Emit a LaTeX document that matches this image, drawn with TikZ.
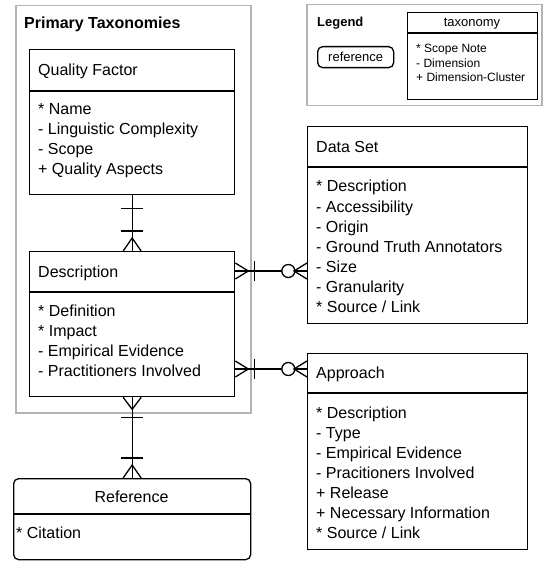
\documentclass[tikz,border=0pt]{standalone}
\usepackage{fontspec}
\setmainfont{Liberation Sans}
\usetikzlibrary{calc}
\definecolor{framegray}{HTML}{B3B3B3}
\begin{document}
\begin{tikzpicture}[x=1pt,y=-1pt,
  box/.style={draw=black, line width=1.3pt, inner sep=0pt, anchor=north west, fill=white},
  grayframe/.style={draw=framegray, line width=1.5pt, inner sep=0pt, anchor=north west},
  txt/.style={anchor=base west, inner sep=0pt, font=\fontsize{16}{20}\selectfont},
  ttl/.style={anchor=base, inner sep=0pt, font=\fontsize{16}{20}\selectfont},
  smalltxt/.style={anchor=base west, inner sep=0pt, font=\fontsize{12}{14}\selectfont},
  ln/.style={draw=black, line width=1.3pt},
  circ/.style={circle, draw=black, fill=white, line width=1.3pt, minimum size=13pt, inner sep=0pt}]
\useasboundingbox (0,0) rectangle (544,561);

% frames
\node[grayframe, minimum width=235pt, minimum height=407pt] (prim) at (15,5) {};
\node[anchor=base west, inner sep=0pt, font=\fontsize{16}{20}\selectfont\bfseries] (primt) at (24,29) {Primary Taxonomies};

\node[grayframe, minimum width=235pt, minimum height=101pt] (leg) at (306,4) {};
\node[anchor=base west, inner sep=0pt, font=\fontsize{13}{15}\selectfont\bfseries] (legt) at (317,27) {Legend};
\node[box, rounded corners=5pt, minimum width=76pt, minimum height=21pt, font=\fontsize{13}{15}\selectfont] (legref) at (317,46) {reference};
\node[box, minimum width=130pt, minimum height=87pt] (legtax) at (407,12) {};
\draw[ln] ([yshift=-21pt]legtax.north west) -- ([yshift=-21pt]legtax.north east);
\node[anchor=base, inner sep=0pt, font=\fontsize{13}{15}\selectfont] (legtaxt) at (472,27) {taxonomy};
\foreach \t [count=\i] in {* Scope Note,- Dimension,+ Dimension-Cluster}
  \node[smalltxt] (lg\i) at (416,38.5+14.5*\i) {\t};

% entities
\node[box, minimum width=205pt, minimum height=145pt] (qf) at (29,49) {};
\draw[ln] ([yshift=-42pt]qf.north west) -- ([yshift=-42pt]qf.north east);
\node[txt] (qft) at (38,76) {Quality Factor};
\foreach \t [count=\i] in {* Name,- Linguistic Complexity,- Scope,+ Quality Aspects}
  \node[txt] (qf\i) at (38,95+20*\i) {\t};

\node[box, minimum width=205pt, minimum height=145pt] (desc) at (29,251) {};
\draw[ln] ([yshift=-41pt]desc.north west) -- ([yshift=-41pt]desc.north east);
\node[txt] (desct) at (38,277) {Description};
\foreach \t [count=\i] in {* Definition,* Impact,- Empirical Evidence,- Practitioners Involved}
  \node[txt] (de\i) at (38,296+20*\i) {\t};

\node[box, rounded corners=5pt, minimum width=237pt, minimum height=81pt] (ref) at (13,478) {};
\draw[ln] ([yshift=-36pt]ref.north west) -- ([yshift=-36pt]ref.north east);
\node[ttl] (reft) at (131.5,502) {Reference};
\node[txt] (ref1) at (16,538) {* Citation};

\node[box, minimum width=220pt, minimum height=197pt] (ds) at (307,126) {};
\draw[ln] ([yshift=-41pt]ds.north west) -- ([yshift=-41pt]ds.north east);
\node[txt] (dst) at (316,153) {Data Set};
\foreach \t [count=\i] in {* Description,- Accessibility,- Origin,- Ground Truth Annotators,- Size,- Granularity,* Source / Link}
  \node[txt] (ds\i) at (316,172+20*\i) {\t};

\node[box, minimum width=220pt, minimum height=196pt] (ap) at (307,353) {};
\draw[ln] ([yshift=-40pt]ap.north west) -- ([yshift=-40pt]ap.north east);
\node[txt] (apt) at (316,378) {Approach};
\foreach \t [count=\i] in {* Description,- Type,- Empirical Evidence,- Pracitioners Involved,+ Release,+ Necessary Information,* Source / Link}
  \node[txt] (ap\i) at (316,398+20*\i) {\t};

% Quality Factor -- Description
\draw[ln] (qf.south) -- (desc.north);
\draw[ln] ($(qf.south)+(-11,13)$) -- ($(qf.south)+(11,13)$);
\draw[ln] ($(desc.north)+(-11,-20)$) -- ($(desc.north)+(11,-20)$);
\draw[ln] ($(desc.north)+(-9,0)$) -- ($(desc.north)+(0,-13)$) -- ($(desc.north)+(9,0)$);

% Description -- Reference
\draw[ln] (desc.south) -- (ref.north);
\draw[ln] ($(desc.south)+(-9,0)$) -- ($(desc.south)+(0,12)$) -- ($(desc.south)+(9,0)$);
\draw[ln] ($(desc.south)+(-11,20)$) -- ($(desc.south)+(11,20)$);
\draw[ln] ($(ref.north)+(-11,-20)$) -- ($(ref.north)+(11,-20)$);
\draw[ln] ($(ref.north)+(-9,0)$) -- ($(ref.north)+(0,-13)$) -- ($(ref.north)+(9,0)$);

% Description -- Data Set
\coordinate (dsE) at ([yshift=-20pt]desc.north east);
\coordinate (dsW) at (dsE -| ds.west);
\draw[ln] (dsE) -- (dsW);
\draw[ln] ($(dsE)+(0,-8)$) -- ($(dsE)+(13,0)$) -- ($(dsE)+(0,8)$);
\draw[ln] ($(dsE)+(19,-10)$) -- ($(dsE)+(19,10)$);
\node[circ] (o1) at ($(dsE)+(53,0)$) {};
\draw[ln] ($(dsW)+(0,-8)$) -- ($(dsW)+(-13,0)$) -- ($(dsW)+(0,8)$);

% Description -- Approach
\coordinate (apE) at ([yshift=-118pt]desc.north east);
\coordinate (apW) at (apE -| ap.west);
\draw[ln] (apE) -- (apW);
\draw[ln] ($(apE)+(0,-8)$) -- ($(apE)+(13,0)$) -- ($(apE)+(0,8)$);
\draw[ln] ($(apE)+(19,-10)$) -- ($(apE)+(19,10)$);
\node[circ] (o2) at ($(apE)+(53,0)$) {};
\draw[ln] ($(apW)+(0,-8)$) -- ($(apW)+(-13,0)$) -- ($(apW)+(0,8)$);
\end{tikzpicture}
\end{document}
